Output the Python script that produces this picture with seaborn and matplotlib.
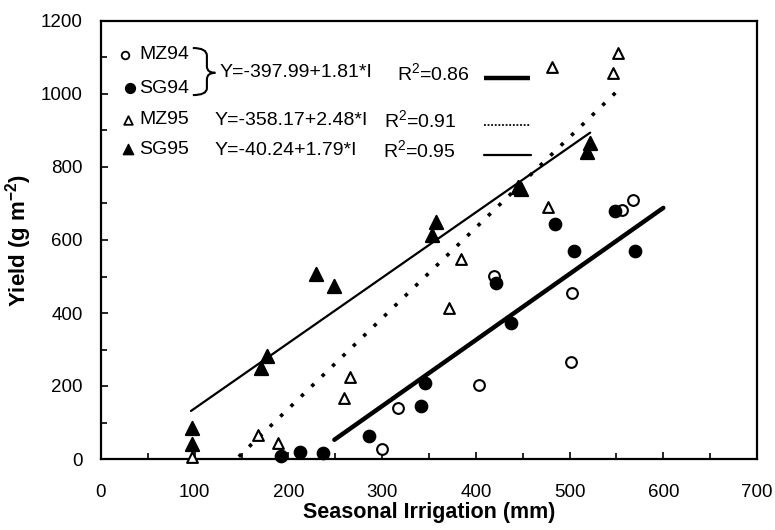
import numpy as np
import pandas as pd
import matplotlib
matplotlib.use("Agg")
import matplotlib.pyplot as plt
from matplotlib.path import Path
from matplotlib.patches import PathPatch
import seaborn as sns

# ---- data ----
mz94_x = [300, 317, 403, 419, 501, 503, 556, 568]
mz94_y = [28, 141, 203, 501, 265, 454, 682, 709]
sg94_x = [192, 212, 237, 286, 341, 346, 421, 437, 484, 505, 548, 570]
sg94_y = [8, 20, 17, 63, 145, 207, 481, 373, 644, 571, 679, 571]
mz95_x = [97, 168, 189, 259, 266, 371, 384, 477, 481, 546, 552]
mz95_y = [5, 66, 43, 166, 224, 413, 547, 690, 1073, 1058, 1113]
sg95_x = [97, 97, 171, 177, 229, 249, 353, 358, 445, 448, 519, 522]
sg95_y = [85, 40, 248, 282, 507, 474, 614, 650, 746, 740, 840, 865]

fit_intercepts = [-397.99, -358.17, -40.24]
fit_slopes = [1.81, 2.48, 1.79]
fit_xmin = [249, 147, 96]
fit_xmax = [600, 552, 522]
fit_eqs = ["Y=-397.99+1.81*I", "Y=-358.17+2.48*I", "Y=-40.24+1.79*I"]
fit_r2 = ["R$^2$=0.86", "R$^2$=0.91", "R$^2$=0.95"]
series_names = ["MZ94", "SG94", "MZ95", "SG95"]

x_ticks = [0, 100, 200, 300, 400, 500, 600, 700]
y_ticks = [0, 200, 400, 600, 800, 1000, 1200]

sns.set_theme(style="ticks")
plt.rcParams["font.family"] = ["Liberation Sans", "DejaVu Sans"]
plt.rcParams["mathtext.default"] = "regular"
for k in ["text.color", "axes.labelcolor", "xtick.color", "ytick.color", "axes.edgecolor"]:
    plt.rcParams[k] = "black"

fig = plt.figure(figsize=(7.75, 5.3), dpi=100)
ax = fig.add_axes([101/775, 1-459/530, 656/775, 438/530])

def scatter(xs, ys, marker, filled, size):
    df = pd.DataFrame({"x": xs, "y": ys})
    sns.scatterplot(data=df, x="x", y="y", ax=ax, marker=marker, s=size,
                    facecolor="black" if filled else "white",
                    edgecolor="black", linewidth=1.5, clip_on=False, zorder=4)

scatter(mz94_x, mz94_y, "o", False, 60)
scatter(sg94_x, sg94_y, "o", True, 70)
scatter(mz95_x, mz95_y, "^", False, 60)
scatter(sg95_x, sg95_y, "^", True, 90)

styles = [dict(lw=3.2, ls="-"), dict(lw=2.6, ls=(0, (1, 3.0))), dict(lw=1.6, ls="-")]
for b0, b1, x0, x1, st in zip(fit_intercepts, fit_slopes, fit_xmin, fit_xmax, styles):
    xs = np.array([x0, x1], dtype=float)
    df = pd.DataFrame({"x": xs, "y": b0 + b1 * xs})
    sns.lineplot(data=df, x="x", y="y", ax=ax, color="black", linewidth=st["lw"],
                 linestyle=st["ls"], zorder=3)

ax.set_xlim(0, 700)
ax.set_ylim(0, 1200)
ax.set_xticks(x_ticks)
ax.set_yticks(y_ticks)
ax.set_xticks(np.arange(0, 701, 50), minor=True)
ax.set_yticks(np.arange(0, 1201, 100), minor=True)
ax.tick_params(axis="both", which="both", direction="in", colors="black",
               labelsize=13.5, width=1.2, top=False, right=False)
ax.tick_params(which="major", length=5)
ax.tick_params(which="minor", length=4)
ax.tick_params(axis="x", which="major", pad=18)
ax.tick_params(axis="y", which="major", pad=13)
for sp in ax.spines.values():
    sp.set_linewidth(1.6)
    sp.set_color("black")
    sp.set_visible(True)

ax.set_xlabel("Seasonal Irrigation (mm)", fontsize=15.5, fontweight="bold", labelpad=1)
ax.set_ylabel("Yield (g m$^{-2}$)", fontsize=16, fontweight="bold", labelpad=5)

# ---- legend-like annotation ----
fs = 14
ax.scatter([26], [1107], marker="o", s=30, facecolor="white", edgecolor="black", lw=1.3)
ax.scatter([31], [1016], marker="o", s=50, facecolor="black", edgecolor="black")
ax.scatter([29], [929], marker="^", s=38, facecolor="white", edgecolor="black", lw=1.3)
ax.scatter([29], [849], marker="^", s=55, facecolor="black", edgecolor="black")
name_y = [1107, 1016, 929, 849]
for nm, yy in zip(series_names, name_y):
    ax.text(41, yy, nm, fontsize=fs, va="center")

eq_x = [127, 121, 121]
eq_y = [1058, 927, 845]
r2_x = [316, 302, 301]
for eq, r2, ex, ey, rx in zip(fit_eqs, fit_r2, eq_x, eq_y, r2_x):
    ax.text(ex, ey, eq, fontsize=fs, va="center")
    ax.text(rx, ey, r2, fontsize=fs, va="center")

ax.plot([409, 458], [1045, 1045], color="black", lw=3.2, solid_capstyle="butt")
ax.plot([409, 459], [915, 915], color="black", lw=1.3, ls=(0, (1, 1)))
ax.plot([409, 459], [833, 833], color="black", lw=1.6)

# curly brace
verts = [(98, 1126), (113, 1126), (113, 1105), (113, 1076),
         (113, 1058), (122, 1058),
         (113, 1058), (113, 1040), (113, 1016),
         (113, 997), (98, 997)]
codes = [Path.MOVETO, Path.CURVE3, Path.CURVE3, Path.LINETO,
         Path.CURVE3, Path.CURVE3,
         Path.CURVE3, Path.CURVE3, Path.LINETO,
         Path.CURVE3, Path.CURVE3]
ax.add_patch(PathPatch(Path(verts, codes), fill=False, lw=1.5, color="black"))

fig.savefig("out.png", dpi=100)
